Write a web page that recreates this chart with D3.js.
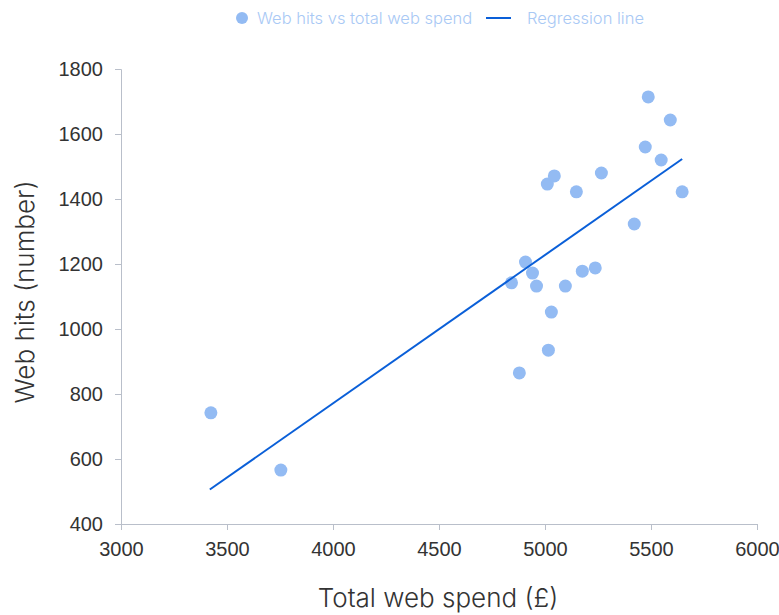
<!DOCTYPE html>
<html>
<head>
<meta charset="utf-8">
<script src="https://cdn.jsdelivr.net/npm/d3@7"></script>
<style>
  body { margin: 0; background: #fff; }
  svg { font-family: Inter, "Noto Sans", sans-serif; }
  .axis path, .axis line { stroke: #b9bfca; }
  .axis text { fill: #333; font-size: 20px; font-weight: 300; }
</style>
</head>
<body>
<svg width="779" height="615"></svg>
<script>
// total web spend (£) and web hits
var spend = [3424, 3754, 4879, 5016, 5030, 4842, 4960, 4941, 4908, 5096, 5176,
             5237, 5421, 5011, 5044, 5148, 5266, 5473, 5548, 5487, 5591, 5647];
var hits  = [742, 566, 865, 935, 1052, 1142, 1132, 1172, 1206, 1132, 1178,
             1188, 1323, 1446, 1471, 1422, 1480, 1560, 1520, 1714, 1643, 1422];

// regression line end points
var regX = [3419, 5647];
var regY = [506, 1523];

var xTicks = [3000, 3500, 4000, 4500, 5000, 5500, 6000];
var yTicks = [400, 600, 800, 1000, 1200, 1400, 1600, 1800];

var svg = d3.select("svg"),
    margin = {top: 69, right: 22, bottom: 91, left: 121},
    width = +svg.attr("width") - margin.left - margin.right,
    height = +svg.attr("height") - margin.top - margin.bottom,
    g = svg.append("g").attr("transform", "translate(" + margin.left + "," + margin.top + ")");

var x = d3.scaleLinear().domain([3000, 6000]).range([0, width]);
var y = d3.scaleLinear().domain([400, 1800]).range([height, 0]);

g.append("g")
    .attr("class", "axis")
    .attr("transform", "translate(0," + height + ")")
    .call(d3.axisBottom(x).tickValues(xTicks).tickSize(6).tickPadding(12).tickFormat(d3.format("d")));

g.append("g")
    .attr("class", "axis")
    .call(d3.axisLeft(y).tickValues(yTicks).tickSize(6).tickPadding(12).tickFormat(d3.format("d")));

svg.append("text")
    .attr("x", 438)
    .attr("y", 607)
    .attr("text-anchor", "middle")
    .attr("fill", "#333")
    .style("font-size", "26px")
    .style("font-weight", 300)
    .text("Total web spend (£)");

svg.append("text")
    .attr("transform", "translate(34," + 292 + ") rotate(-90)")
    .attr("text-anchor", "middle")
    .attr("fill", "#333")
    .style("font-size", "26px")
    .style("font-weight", 300)
    .text("Web hits (number)");

var pts = spend.map(function(d, i) { return {x: d, y: hits[i]}; });

g.selectAll(".dot")
    .data(pts)
    .enter().append("circle")
    .attr("class", "dot")
    .attr("cx", function(d) { return x(d.x); })
    .attr("cy", function(d) { return y(d.y); })
    .attr("r", 6.5)
    .attr("fill", "#93bbf3");

var line = d3.line()
    .x(function(d) { return x(d[0]); })
    .y(function(d) { return y(d[1]); });

g.append("path")
    .datum(regX.map(function(d, i) { return [d, regY[i]]; }))
    .attr("fill", "none")
    .attr("stroke", "#0a5fd8")
    .attr("stroke-width", 2)
    .attr("d", line);

// legend
var legend = svg.append("g").style("font-size", "16.5px").style("font-weight", 300);
legend.append("circle").attr("cx", 242).attr("cy", 18).attr("r", 6).attr("fill", "#93bbf3");
legend.append("text").attr("x", 257).attr("y", 24).attr("fill", "#a9c9f5").text("Web hits vs total web spend");
legend.append("line").attr("x1", 486).attr("x2", 511).attr("y1", 18).attr("y2", 18)
    .attr("stroke", "#0a5fd8").attr("stroke-width", 2);
legend.append("text").attr("x", 527).attr("y", 24).attr("fill", "#a9c9f5").text("Regression line");
</script>
</body>
</html>
